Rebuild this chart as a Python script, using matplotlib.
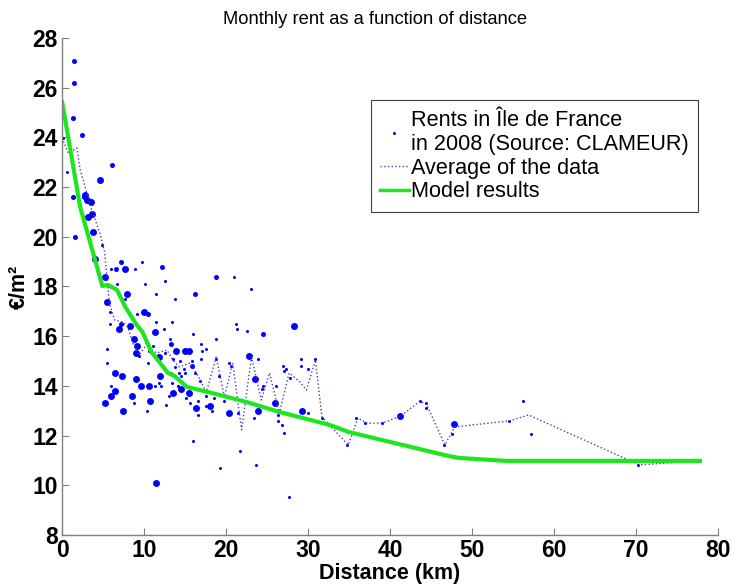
import matplotlib
matplotlib.use("Agg")
import matplotlib.pyplot as plt
from matplotlib.lines import Line2D

plt.rcParams["font.family"] = ["Liberation Sans", "DejaVu Sans"]

# --- scatter data (distance km, rent €/m2), three marker sizes ---
dist_small = [0.12, 0.61, 4.85, 5.94, 8.85, 9.70, 20.98, 6.67, 10.07, 12.49, 23.04, 7.64,
              11.40, 13.83, 5.82, 9.10, 5.82, 11.40, 13.46, 21.22, 21.35, 12.37, 16.01,
              22.56, 13.22, 18.80, 16.98, 11.04, 5.46, 10.55, 9.34, 12.49, 17.10, 17.59,
              23.89, 18.80, 16.98, 29.11, 29.11, 30.81, 29.96, 5.46, 10.43, 12.25, 13.71,
              14.43, 15.89, 14.92, 20.38, 20.62, 26.93, 27.29, 27.05, 14.19, 14.31, 15.04,
              16.25, 19.16, 13.34, 14.55, 16.86, 13.46, 24.50, 24.38, 26.08, 27.84, 5.94,
              11.28, 12.01, 11.76, 12.98, 15.16, 18.56, 17.59, 19.89, 19.77, 16.62, 8.73,
              17.59, 12.73, 15.65, 10.31, 18.31, 21.47, 29.96, 16.62, 26.32, 23.41, 26.32,
              26.80, 27.05, 31.66, 16.01, 21.71, 23.65, 19.28, 27.65, 34.81, 35.90, 36.99,
              39.05, 43.66, 44.39, 44.39, 46.57, 47.54, 54.46, 56.28, 57.25, 70.22, 77.62,
              10.19, 13.58]
rent_small = [23.98, 22.61, 19.67, 18.70, 18.70, 18.99, 18.38, 18.10, 18.10, 18.22, 17.90,
              17.50, 17.70, 17.50, 16.97, 16.89, 16.49, 16.57, 16.57, 16.49, 16.29, 16.29,
              16.09, 16.21, 15.89, 15.89, 15.69, 15.61, 15.48, 15.40, 15.20, 15.32, 15.40,
              15.48, 15.08, 15.08, 15.08, 15.08, 14.80, 15.08, 14.68, 14.92, 14.92, 14.80,
              14.76, 15.00, 15.00, 14.68, 14.92, 14.80, 14.80, 14.68, 14.60, 14.00, 14.52,
              14.52, 14.52, 14.40, 14.52, 14.40, 14.20, 14.12, 14.00, 13.88, 14.00, 14.30,
              14.00, 14.00, 14.00, 14.12, 13.59, 13.51, 13.51, 13.59, 13.59, 13.39, 13.39,
              13.31, 13.19, 13.23, 13.31, 12.99, 12.99, 12.91, 12.91, 12.83, 12.83, 12.71,
              12.59, 12.43, 12.10, 12.71, 11.78, 11.38, 10.82, 10.70, 9.53, 11.62, 12.71,
              12.51, 12.51, 13.39, 13.31, 13.11, 11.62, 12.06, 12.59, 13.39, 12.06, 10.82,
              10.98, 15.77, 15.08]

dist_mid = [1.46, 1.46, 1.33, 2.43, 6.06, 1.33, 2.67, 1.58, 7.16, 6.55, 12.13, 18.80,
            16.25, 10.43, 7.16, 24.50, 13.34, 15.89]
rent_mid = [27.07, 26.19, 24.78, 24.10, 22.89, 21.60, 21.60, 19.99, 18.99, 18.70, 18.78,
            18.38, 17.70, 16.89, 16.49, 16.09, 15.69, 14.80]

dist_big = [4.61, 2.79, 3.03, 3.52, 3.64, 3.15, 3.76, 4.00, 7.64, 5.22, 7.88, 5.46, 9.95,
            6.91, 8.25, 28.26, 11.28, 8.73, 9.10, 8.98, 11.76, 13.95, 15.04, 15.52, 22.80,
            6.43, 7.28, 8.98, 11.89, 23.53, 9.58, 10.55, 14.55, 6.43, 13.58, 15.52, 5.94,
            8.49, 25.96, 5.22, 10.67, 18.07, 16.37, 7.40, 20.38, 23.89, 29.23, 11.40,
            41.24, 47.79]
rent_big = [22.29, 21.68, 21.48, 21.40, 20.92, 20.80, 20.19, 19.11, 18.70, 18.38, 17.70,
            17.38, 16.97, 16.29, 16.41, 16.41, 16.17, 15.89, 15.61, 15.32, 15.16, 15.40,
            15.40, 15.40, 15.20, 14.52, 14.40, 14.28, 14.40, 14.28, 14.00, 14.00, 13.88,
            13.79, 13.71, 13.71, 13.59, 13.59, 13.31, 13.31, 13.39, 13.19, 13.11, 12.99,
            12.91, 12.99, 12.99, 10.09, 12.79, 12.47]

# --- average of the data (dotted) ---
avg_dist = [0.0, 0.73, 1.8, 2.2, 3.6, 4.6, 5.2, 5.5, 5.8, 6.4, 7.4, 8.0, 8.6, 9.4, 10.3,
            11.5, 12.8, 13.5, 14.3, 15.6, 16.4, 17.6, 18.8, 19.8, 20.8, 21.9, 23.1, 24.3,
            25.3, 26.5, 27.7, 29.0, 29.8, 30.9, 31.7, 34.9, 36.1, 37.1, 39.1, 41.3, 43.7,
            44.5, 46.7, 47.9, 54.6, 56.9, 70.4, 77.8]
avg_rent = [23.98, 23.37, 23.57, 22.7, 21.1, 20.15, 19.35, 18.2, 17.3, 16.65, 16.57,
            16.37, 15.73, 15.24, 15.65, 15.32, 15.44, 15.04, 14.76, 14.92, 14.52, 13.75,
            15.16, 13.55, 14.92, 12.23, 15.16, 13.43, 14.52, 12.9, 14.52, 14.16, 13.83,
            15.04, 12.75, 11.62, 12.71, 12.5, 12.5, 12.79, 13.39, 13.23, 11.62, 12.35,
            12.59, 12.83, 10.82, 10.98]

# --- model results (green) ---
model_dist = [0.0, 2.2, 4.6, 4.9, 5.6, 6.7, 7.7, 9.1, 9.8, 10.9, 12.9, 13.7, 15.2, 18.3,
              22.5, 26.5, 32.6, 35.0, 47.1, 48.4, 54.1, 77.8]
model_rent = [25.42, 21.2, 18.38, 18.02, 18.06, 17.86, 17.18, 16.45, 16.17, 15.36, 14.52,
              14.4, 13.96, 13.71, 13.35, 12.95, 12.43, 12.14, 11.18, 11.1, 10.98, 10.98]

BLUE = "#0000ff"
AVG_COLOR = "#4040b8"
GREEN = "#1ee61e"

fig = plt.figure(figsize=(7.31, 5.84), dpi=100)
ax = fig.add_axes([0.085, 0.084, 0.897, 0.851])

ax.plot(dist_small, rent_small, "o", color=BLUE, markersize=2.2, markeredgewidth=0)
ax.plot(dist_mid, rent_mid, "o", color=BLUE, markersize=3.6, markeredgewidth=0)
ax.plot(dist_big, rent_big, "o", color=BLUE, markersize=5.0, markeredgewidth=0)
ax.plot(avg_dist, avg_rent, linestyle=":", color=AVG_COLOR, linewidth=1.0)
ax.plot(model_dist, model_rent, color=GREEN, linewidth=3.0)

ax.set_xlim(0, 80)
ax.set_ylim(8, 28)
ax.set_xticks(range(0, 81, 10))
ax.set_yticks(range(8, 29, 2))

for side in ("top", "right"):
    ax.spines[side].set_visible(False)
for side in ("left", "bottom"):
    ax.spines[side].set_color("#808080")
    ax.spines[side].set_linewidth(1.0)
ax.tick_params(direction="in", length=5, color="#808080", labelsize=16.5)
ax.tick_params(axis="y", pad=3)
ax.tick_params(axis="x", pad=3)
for lbl in ax.get_xticklabels() + ax.get_yticklabels():
    lbl.set_fontweight("bold")

ax.set_xlabel("Distance (km)", fontsize=15.5, fontweight="bold", labelpad=1)
ax.set_ylabel("€/m²", fontsize=15.5, fontweight="bold", labelpad=2)
ax.set_title("Monthly rent as a function of distance", fontsize=13.2, pad=10, x=0.477)

handles = [
    Line2D([], [], linestyle="none", marker="o", color=BLUE, markersize=2.2,
           markeredgewidth=0),
    Line2D([], [], linestyle=":", color=AVG_COLOR, linewidth=1.0),
    Line2D([], [], color=GREEN, linewidth=2.5),
]
labels = ["Rents in Île de France\nin 2008 (Source: CLAMEUR)",
          "Average of the data", "Model results"]
leg = ax.legend(handles, labels, loc="upper right", bbox_to_anchor=(0.97, 0.875),
                borderaxespad=0, fontsize=15.6, handlelength=1.3, handletextpad=0.1,
                labelspacing=0.12, borderpad=0.45, fancybox=False, framealpha=1)
leg.get_frame().set_edgecolor("#404040")
leg.get_frame().set_linewidth(0.8)

fig.savefig("out.png", dpi=100)
